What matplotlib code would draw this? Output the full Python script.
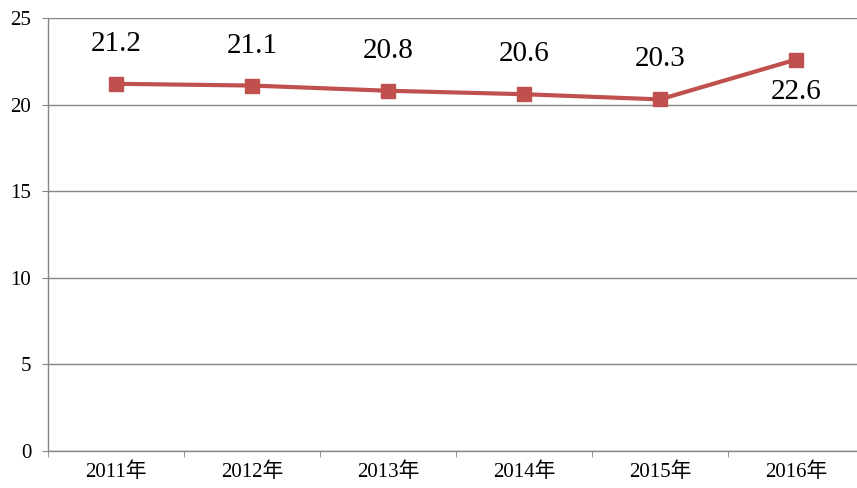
import matplotlib.pyplot as plt

# data
years = ['2011年', '2012年', '2013年', '2014年', '2015年', '2016年']
values = [21.2, 21.1, 20.8, 20.6, 20.3, 22.6]
label_offsets = [40, 40, 40, 40, 40, -32]  # px, above / below point

plt.rcParams['font.family'] = ['Liberation Serif', 'Noto Sans CJK TC']

fig = plt.figure(figsize=(8.57, 4.88), dpi=100)
# right edge of plot area runs past the picture edge
ax = fig.add_axes([48 / 857, 1 - 451 / 488, 816 / 857, (451 - 18) / 488])

x = list(range(len(years)))
ax.plot(x, values, color='#C0504D', linewidth=3, marker='s', markersize=10.5,
        zorder=3, clip_on=False)

for xi, v, off in zip(x, values, label_offsets):
    ax.annotate(f'{v:.1f}', (xi, v), xytext=(0, off * 0.72), textcoords='offset points',
                ha='center', va='center', fontsize=21, color='black')

ax.set_xlim(-0.5, len(years) - 0.5)
ax.set_ylim(0, 25)
ax.set_yticks([0, 5, 10, 15, 20, 25])
ax.set_xticks(x)
ax.set_xticklabels(years, fontsize=15)
ax.set_xticks([i - 0.5 for i in range(len(years) + 1)], minor=True)
ax.tick_params(axis='x', which='major', length=0, pad=8)
ax.tick_params(axis='x', which='minor', length=4, color='#868686')
ax.tick_params(axis='y', length=4, color='#868686', labelsize=15, pad=8)

ax.yaxis.grid(True, color='#868686', linewidth=1)
ax.set_axisbelow(True)
for s in ['top', 'right']:
    ax.spines[s].set_visible(False)
for s in ['left', 'bottom']:
    ax.spines[s].set_color('#868686')
    ax.spines[s].set_linewidth(1)

fig.savefig('out.png', dpi=100)
